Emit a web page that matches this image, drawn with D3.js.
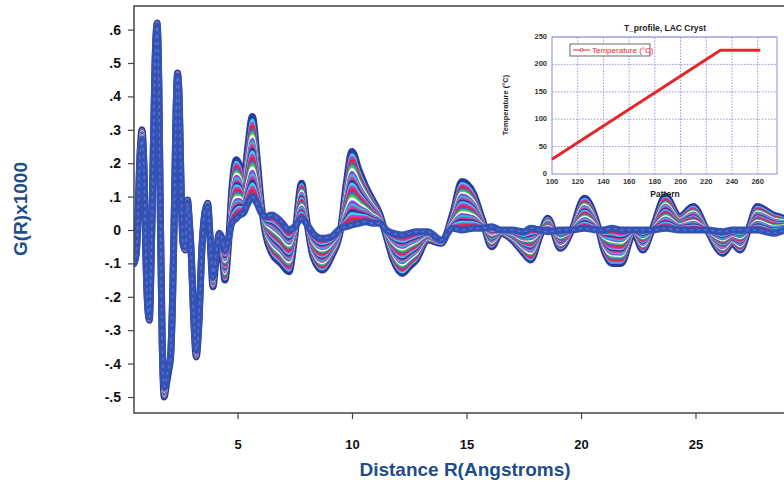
<!DOCTYPE html>
<html><head><meta charset="utf-8">
<script src="https://cdn.jsdelivr.net/npm/d3@7"></script>
<style>
body{margin:0;background:#fff}
svg{display:block}
text{font-family:"Liberation Sans",Arial,Helvetica,sans-serif}
</style>
</head><body>
<svg id="chart" width="784" height="482"></svg>
<script>
// ---- main PDF data: distance R (Å) ----
const rValues = [0.48,0.58,0.66,0.74,0.83,0.92,1.00,1.08,1.15,1.22,1.30,1.40,1.49,1.56,1.63,1.71,1.80,1.90,2.00,2.08,2.16,2.24,2.32,2.38,2.45,2.53,2.62,2.72,2.82,2.90,2.98,3.08,3.20,3.30,3.45,3.60,3.70,3.80,3.93,4.05,4.20,4.30,4.45,4.60,4.75,4.95,5.10,5.25,5.45,5.65,5.85,6.05,6.25,6.50,6.90,7.25,7.50,7.80,8.00,8.30,8.70,9.10,9.50,9.75,10.0,10.3,10.6,10.9,11.2,11.5,11.8,12.2,12.5,12.8,13.3,13.9,14.4,14.8,15.3,15.7,16.1,16.5,17.0,17.5,17.8,18.2,18.55,19.1,19.6,20.15,20.7,21.0,21.35,21.75,22.3,22.7,23.1,23.7,24.3,24.9,25.5,26.2,26.6,26.95,27.35,27.7,28.4,29.0,29.5];
// final (flattest) pattern G(R)
const gAmorphous = [-0.10,-0.07,0.05,0.22,0.27,0.18,-0.08,-0.23,-0.26,-0.12,0.15,0.50,0.61,0.45,0.05,-0.33,-0.47,-0.44,-0.41,-0.37,-0.22,0.05,0.36,0.46,0.40,0.15,-0.04,-0.05,0.08,0.02,-0.07,-0.25,-0.36,-0.29,-0.05,0.06,0.07,-0.02,-0.14,-0.08,-0.01,-0.02,-0.06,-0.03,0.02,0.035,0.045,0.05,0.08,0.10,0.08,0.05,0.04,0.045,0.025,0.0,0.01,0.035,0.02,-0.01,-0.025,-0.02,0.005,0.01,0.015,0.02,0.025,0.02,0.02,0.0,-0.01,-0.015,-0.01,-0.005,-0.005,-0.03,0.005,0.0,0.005,0.005,0.01,0.0,0.0,-0.005,0.005,0.0,-0.005,0.0,0.0,0.005,0.0,0.0,0.005,0.0,0.0,0.0,0.0,0.005,0.0,0.0,0.0,-0.005,0.0,0.0,0.0,0.0,-0.01,0.0,0.0];
// most ordered pattern G(R)
const gCrystalline = [-0.10,-0.07,0.05,0.22,0.30,0.18,-0.08,-0.23,-0.27,-0.12,0.15,0.50,0.62,0.45,0.05,-0.33,-0.50,-0.46,-0.42,-0.38,-0.22,0.05,0.36,0.47,0.40,0.15,-0.04,-0.06,0.09,0.02,-0.07,-0.25,-0.38,-0.30,-0.05,0.06,0.08,-0.02,-0.17,-0.10,-0.04,-0.05,-0.15,-0.05,0.12,0.21,0.19,0.14,0.25,0.34,0.22,0.07,-0.02,-0.07,-0.10,-0.125,-0.02,0.14,0.04,-0.08,-0.12,-0.08,0.0,0.14,0.235,0.18,0.13,0.09,0.05,-0.02,-0.09,-0.13,-0.11,-0.09,-0.03,-0.04,0.05,0.145,0.11,0.03,-0.05,-0.01,-0.03,-0.07,-0.09,-0.02,0.035,-0.055,0.0,0.095,0.02,-0.06,-0.10,-0.10,-0.01,-0.06,0.0,0.10,0.04,0.07,0.0,-0.07,-0.04,-0.06,0.01,0.07,0.045,0.03,0.0];
// ordering fraction of each recorded pattern (first drawn = most ordered)
const mixWeights = [1.0,0.95,0.91,0.87,0.83,0.79,0.75,0.71,0.67,0.63,0.59,0.55,0.51,0.47,0.43,0.39,0.35,0.31,0.27,0.23,0.19,0.15,0.11,0.07,0.03,0.0];
const curveColors = ["#2a3a9e","#3bcfe9","#c63bc4","#e8232b","#4667d2","#3ccb45","#ffffff","#8a4cd6","#2fb8e0","#d93a8e"];
const yTickValues = [-0.5,-0.4,-0.3,-0.2,-0.1,0,0.1,0.2,0.3,0.4,0.5,0.6];
const yTickLabels = ["-.5","-.4","-.3","-.2","-.1","0",".1",".2",".3",".4",".5",".6"];
const xTickValues = [5,10,15,20,25];

// ---- inset data ----
const insetPattern = [100,231,262];
const insetTemp = [27,226,226];
const insetXTicks = [100,120,140,160,180,200,220,240,260];
const insetYTicks = [0,50,100,150,200,250];

const svg = d3.select("#chart");
const x = d3.scaleLinear().domain([0,30]).range([123,810]);
const y = d3.scaleLinear().domain([-0.5,0.6]).range([397,29.6]);

svg.append("defs").append("clipPath").attr("id","plotclip")
  .append("rect").attr("x",134).attr("y",6).attr("width",700).attr("height",407);

const line = d3.line().x(d=>x(d[0])).y(d=>y(d[1])).curve(d3.curveMonotoneX);
const g = svg.append("g").attr("clip-path","url(#plotclip)");
mixWeights.forEach((w,i)=>{
  const pts = rValues.map((r,k)=>[r, gAmorphous[k] + w*(gCrystalline[k]-gAmorphous[k])]);
  const last = i===mixWeights.length-1;
  g.append("path").attr("d",line(pts)).attr("fill","none")
    .attr("stroke", last ? "#3452b4" : (i===0 ? "#2a3a9e" : curveColors[i%curveColors.length]))
    .attr("stroke-width", last ? 7 : (i===0 ? 7 : 4))
    .attr("stroke-linejoin","round").attr("stroke-linecap","round");
  if (last) {
    g.append("path").attr("d",line(pts)).attr("fill","none")
      .attr("stroke","#5f7fd8").attr("stroke-width",1.6).attr("stroke-dasharray","2,5")
      .attr("stroke-linecap","round").attr("opacity",0.7);
  }
});

// frame
svg.append("rect").attr("x",134).attr("y",6).attr("width",700).attr("height",407)
  .attr("fill","none").attr("stroke","#444").attr("stroke-width",1.5);

// y axis
const ya = svg.append("g").attr("transform","translate(134,0)")
  .call(d3.axisLeft(y).tickValues(yTickValues).tickFormat((d,i)=>yTickLabels[i]).tickSize(6).tickPadding(7));
ya.select(".domain").remove();
ya.selectAll("line").attr("stroke","#444").attr("stroke-width",1.2);
ya.selectAll("text").attr("font-size",14).attr("font-weight","bold").attr("fill","#111")
  .style("font-family","'Liberation Sans',Arial,sans-serif");

// x axis
const xa = svg.append("g").attr("transform","translate(0,413)")
  .call(d3.axisBottom(x).tickValues(xTickValues).tickSize(6));
xa.select(".domain").remove();
xa.selectAll("line").attr("stroke","#444").attr("stroke-width",1.2);
xa.selectAll("text").attr("y",27).attr("font-size",13).attr("font-weight","bold").attr("fill","#111")
  .style("font-family","'Liberation Sans',Arial,sans-serif");

// axis titles
svg.append("text").attr("transform","translate(27,209) rotate(-90)").attr("text-anchor","middle")
  .attr("font-size",19).attr("font-weight","bold").attr("fill","#1d4e89").text("G(R)x1000");
svg.append("text").attr("x",465).attr("y",476).attr("text-anchor","middle")
  .attr("font-size",19).attr("font-weight","bold").attr("fill","#1d4e89").text("Distance R(Angstroms)");

// ---- inset ----
const xi = d3.scaleLinear().domain([100,275]).range([552,777]);
const yi = d3.scaleLinear().domain([0,250]).range([174,37]);
const inset = svg.append("g");
inset.selectAll(".vg").data(insetXTicks.slice(1)).join("line")
  .attr("x1",d=>xi(d)).attr("x2",d=>xi(d)).attr("y1",yi(0)).attr("y2",yi(250))
  .attr("stroke","#7b7be0").attr("stroke-width",0.8).attr("stroke-dasharray","1.5,1.5");
inset.selectAll(".hg").data(insetYTicks.slice(1)).join("line")
  .attr("x1",xi(100)).attr("x2",xi(275)).attr("y1",d=>yi(d)).attr("y2",d=>yi(d))
  .attr("stroke","#7b7be0").attr("stroke-width",0.8).attr("stroke-dasharray","1.5,1.5");
inset.append("rect").attr("x",xi(100)).attr("y",yi(250)).attr("width",xi(275)-xi(100)).attr("height",yi(0)-yi(250))
  .attr("fill","none").attr("stroke","#8a8ad8").attr("stroke-width",1);
inset.selectAll(".xt").data(insetXTicks).join("text").attr("x",d=>xi(d)).attr("y",184)
  .attr("text-anchor","middle").attr("font-size",7.5).attr("font-weight","bold").attr("fill","#333").text(d=>d);
inset.selectAll(".yt").data(insetYTicks).join("text").attr("x",547).attr("y",d=>yi(d)+2)
  .attr("text-anchor","end").attr("font-size",7.5).attr("font-weight","bold").attr("fill","#333").text(d=>d);
const tline = d3.line().x((d,i)=>xi(insetPattern[i])).y(d=>yi(d));
inset.append("path").attr("d",tline(insetTemp)).attr("fill","none").attr("stroke","#e8262a")
  .attr("stroke-width",3).attr("stroke-linejoin","round");
inset.append("text").attr("x",665).attr("y",31).attr("text-anchor","middle").attr("font-size",8.5)
  .attr("font-weight","bold").attr("fill","#222").text("T_profile, LAC Cryst");
inset.append("text").attr("x",665).attr("y",197).attr("text-anchor","middle").attr("font-size",8.5)
  .attr("font-weight","bold").attr("fill","#222").text("Pattern");
inset.append("text").attr("transform","translate(508,105) rotate(-90)").attr("text-anchor","middle")
  .attr("font-size",7.5).attr("font-weight","bold").attr("fill","#222").text("Temperature (°C)");
// legend
inset.append("rect").attr("x",570).attr("y",44).attr("width",80).attr("height",12)
  .attr("fill","#fff").attr("stroke","#444").attr("stroke-width",0.8);
inset.append("line").attr("x1",573).attr("x2",590).attr("y1",50).attr("y2",50).attr("stroke","#e8262a").attr("stroke-width",1);
inset.append("circle").attr("cx",581.5).attr("cy",50).attr("r",1.5).attr("fill","#fff").attr("stroke","#e8262a").attr("stroke-width",0.8);
inset.append("text").attr("x",592).attr("y",53).attr("font-size",8).attr("fill","#e8262a").text("Temperature (°C)");
</script>
</body></html>
